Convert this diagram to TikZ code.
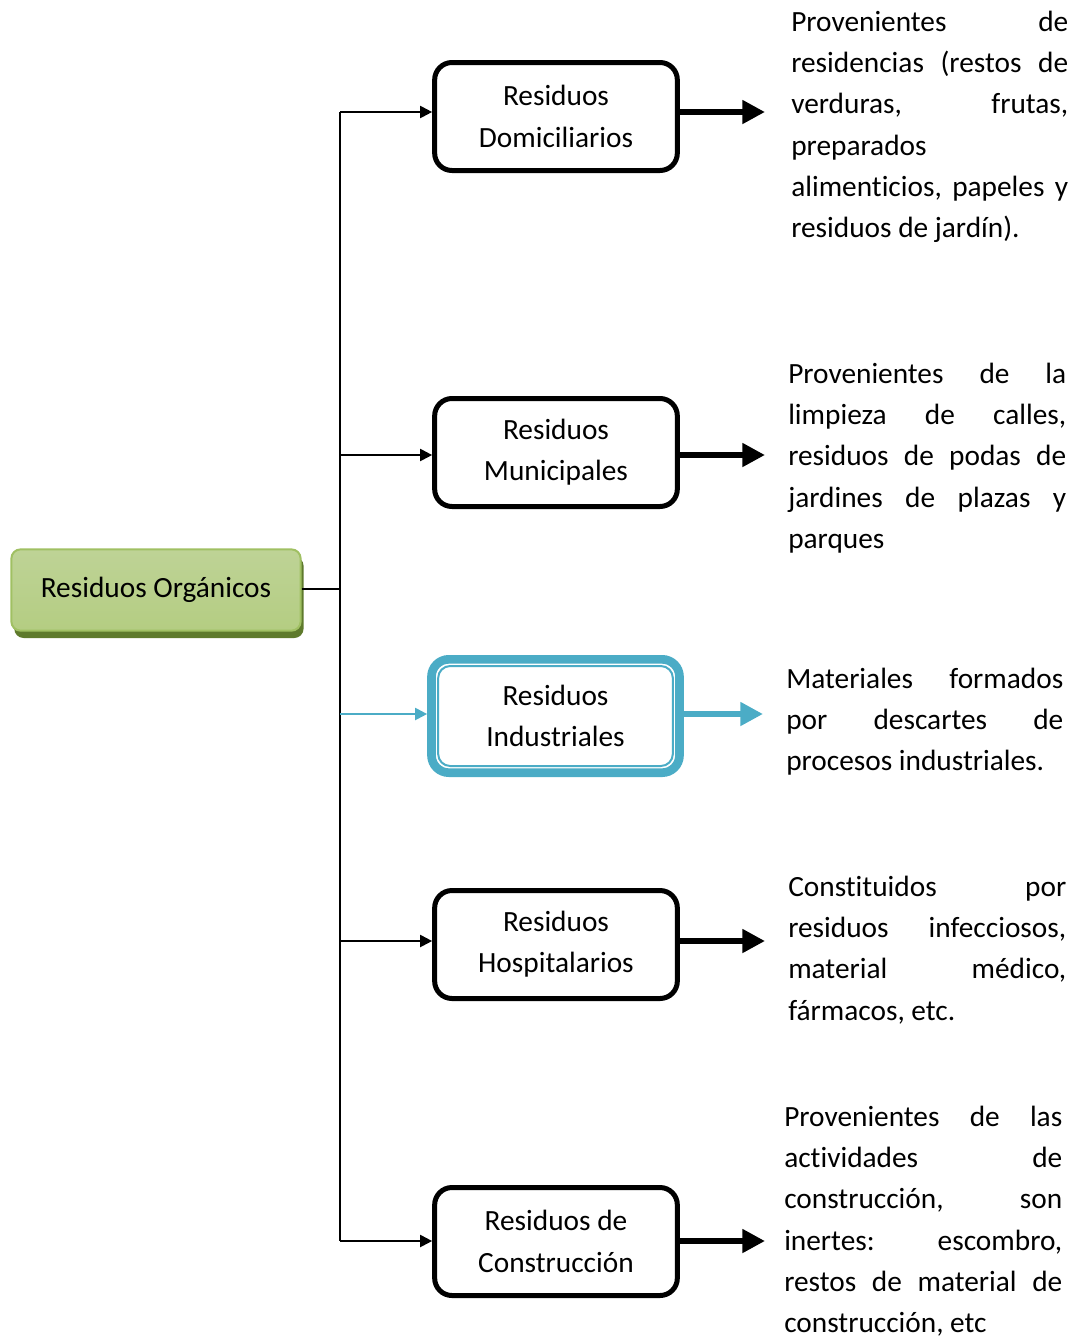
\documentclass[tikz,border=0pt]{standalone}
\usepackage{fontspec}
\setmainfont[Ligatures=NoCommon]{Carlito}
\usetikzlibrary{arrows.meta,shadows,calc}
\definecolor{gTop}{HTML}{BED396}
\definecolor{gMid}{HTML}{98B955}
\definecolor{gBot}{HTML}{B4CD82}
\definecolor{gLine}{HTML}{A0C063}
\definecolor{gShadow}{HTML}{5E7A2C}
\definecolor{indBlue}{HTML}{4BACC6}
\hyphenpenalty=10000
\exhyphenpenalty=10000
\begin{document}
\begin{tikzpicture}[x=0.75pt,y=-0.75pt,
  txt/.style={font=\fontsize{22pt}{31pt}\selectfont},
  catbox/.style={txt, draw=black, line width=3.75pt, rounded corners=13pt,
    minimum width=182pt, minimum height=81pt, align=center, fill=white, inner sep=2pt},
  indbox/.style={txt, draw=indBlue, line width=6.5pt, rounded corners=13pt,
    minimum width=186pt, minimum height=85pt, align=center, fill=white, inner sep=2pt},
  orgbox/.style={txt, draw=gLine, line width=1.5pt, rounded corners=7pt,
    minimum width=217pt, minimum height=61pt,
    top color=gTop, middle color=gMid, bottom color=gBot,
    drop shadow={shadow xshift=2.2pt, shadow yshift=-5.5pt, fill=gShadow, opacity=1}},
  desc/.style={txt, align=justify, inner sep=0pt, anchor=base west},
  trunk/.style={line width=1.5pt, draw=black},
  branch/.style={line width=1.5pt, draw=black, -{Triangle[length=9pt,width=9pt]}},
  big/.style={line width=5pt, draw=black, -{Triangle[length=17pt,width=17pt]}},
]
\useasboundingbox (0,0) rectangle (1076,1336);

% root
\node[orgbox] (org) at (156,590) {Residuos Orgánicos};

% categories
\node[catbox] (dom) at (556,116.5) {Residuos\\Domiciliarios};
\node[catbox] (mun) at (556,452.5) {Residuos\\Municipales};
\node[indbox] (ind) at (555.5,716) {Residuos\\Industriales};
\draw[indBlue, line width=1.5pt, rounded corners=9pt]
  ($(ind.north west)+(11,11)$) rectangle ($(ind.south east)+(-11,-11)$);
\node[catbox] (hos) at (556,944.5) {Residuos\\Hospitalarios};
\node[catbox] (con) at (556,1241.5) {Residuos de\\Construcción};

% arrow tips
\coordinate (jn) at (340,589);
\coordinate (dtip) at (765,112);
\coordinate (mtip) at (765,455);
\coordinate (itip) at (763,714);
\coordinate (htip) at (765,941);
\coordinate (ctip) at (765,1241);

% trunk
\draw[trunk] (org.east |- jn) -- (jn);
\draw[trunk] (jn |- dtip) -- (jn |- ctip);

% branches
\draw[branch] (jn |- dtip) -- (dom.west |- dtip);
\draw[branch] (jn |- mtip) -- (mun.west |- mtip);
\draw[branch, draw=indBlue, fill=indBlue] (jn |- itip) -- (ind.west |- itip);
\draw[branch] (jn |- htip) -- (hos.west |- htip);
\draw[branch] (jn |- ctip) -- (con.west |- ctip);

% outputs
\draw[big] (dom.east |- dtip) -- (dtip);
\draw[big] (mun.east |- mtip) -- (mtip);
\draw[big, draw=indBlue, fill=indBlue] (ind.east |- itip) -- (itip);
\draw[big] (hos.east |- htip) -- (htip);
\draw[big] (con.east |- ctip) -- (ctip);

% descriptions
\node[desc, text width=207.75pt] (dtxt) at (791,31)
  {Provenientes~de\linebreak residencias~(restos~de\linebreak verduras,~frutas,\linebreak preparados\\ alimenticios,~papeles~y\linebreak residuos~de~jardín).};
\node[desc, text width=208.5pt] (mtxt) at (788,383)
  {Provenientes~de~la\linebreak limpieza~de~calles,\linebreak residuos~de~podas~de\linebreak jardines~de~plazas~y\linebreak parques};
\node[desc, text width=207.75pt] (itxt) at (786,688)
  {Materiales~formados\linebreak por~descartes~de\linebreak procesos~industriales.};
\node[desc, text width=208.5pt] (htxt) at (788,896)
  {Constituidos~por\linebreak residuos~infecciosos,\linebreak material~médico,\linebreak fármacos,~etc.};
\node[desc, text width=208.5pt] (ctxt) at (784,1126)
  {Provenientes~de~las\linebreak actividades~de\linebreak construcción,~son\linebreak inertes:~escombro,\linebreak restos~de~material~de\linebreak construcción,~etc};
\end{tikzpicture}
\end{document}
